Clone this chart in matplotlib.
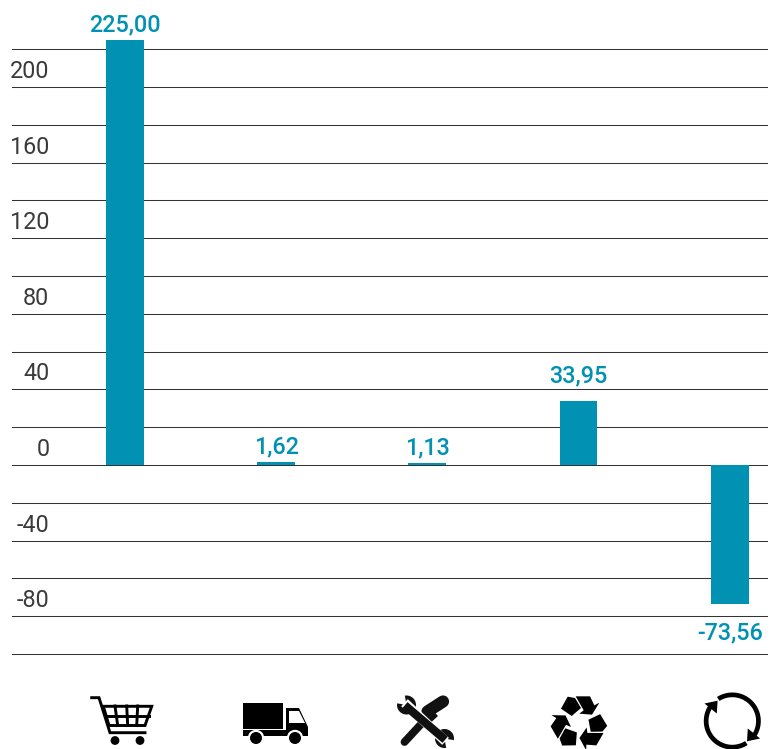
import numpy as np
import matplotlib
matplotlib.use("Agg")
import matplotlib.pyplot as plt
from matplotlib.patches import Polygon, Circle, Rectangle

categories = ["cart", "truck", "tools", "recycle", "cycle"]
values = [225.00, 1.62, 1.13, 33.95, -73.56]
value_labels = ["225,00", "1,62", "1,13", "33,95", "-73,56"]
label_gaps = [15, 15, 15, 24.5, -28.5]
grid_values = list(range(-100, 221, 20))
tick_values = [200, 160, 120, 80, 40, 0, -40, -80]

W, H = 773, 749
BLUE = "#0091b3"
DARK = "#333333"
plt.rcParams["font.family"] = ["Roboto", "DejaVu Sans"]

fig = plt.figure(figsize=(W / 100, H / 100), dpi=100)
ax = fig.add_axes([12 / W, 0, 756 / W, 1])
ax.set_xlim(-0.747, 4.253)
px = 1.89
ax.set_ylim((465 - H) / px, 465 / px)
for s in ax.spines.values():
    s.set_visible(False)
ax.set_xticks([])
ax.set_yticks(grid_values)
ax.tick_params(left=False, labelleft=False)
ax.grid(axis="y", color=DARK, lw=0.75, zorder=1)
ax.set_axisbelow(True)
x = np.arange(len(values))
ax.bar(x, values, width=0.25, color=BLUE, zorder=2)

for xi, v, lab, gap in zip(x, values, value_labels, label_gaps):
    ax.annotate(lab, (xi, v), xytext=(0, gap), textcoords="offset pixels",
                ha="center", va="center", color=BLUE, fontsize=16.8,
                fontweight="medium")
for t in tick_values:
    ax.annotate(str(t), (0, t), xycoords=("axes fraction", "data"), xytext=(37.5, 15.5),
                textcoords="offset pixels", ha="right", va="center", color="#3a3a3a",
                fontsize=16.8, fontweight="regular")

# icon layer in pixel coordinates
ic = fig.add_axes([0, 0, 1, 1], facecolor="none")
ic.set_xlim(0, W)
ic.set_ylim(H, 0)
ic.axis("off")
K = "#000000"


def arc(center, r_out, r_in, t1, t2):
    t = np.deg2rad(np.linspace(t1, t2, 60))
    o = np.c_[np.cos(t), np.sin(t)]
    return np.vstack([o * r_out, (o * r_in)[::-1]]) + center


def rot(p, deg):
    a = np.deg2rad(deg)
    return np.asarray(p) @ np.array([[np.cos(a), np.sin(a)], [-np.sin(a), np.cos(a)]])


# cart
ic.plot([91.7, 99, 110, 145], [697.7, 697.7, 732.7, 732.7], color=K, lw=2.1, solid_joinstyle="miter")
ic.add_patch(Polygon([(103.3, 706.3), (151.7, 706.3), (145, 725.5), (109, 725.5)], closed=True, fc="white", ec=K, lw=2.1))
for xa, xb in [(115, 117.7), (126.7, 127.7), (137.7, 136.7)]:
    ic.plot([xa, xb], [706, 725.5], color=K, lw=2.1)
ic.plot([106, 149], [716.3, 716.3], color=K, lw=2.1)
for cx in (115, 140):
    ic.add_patch(Circle((cx, 740.5), 4.4, fc=K, ec="none"))

# truck
ic.add_patch(Rectangle((243, 703), 40, 25.5, fc=K, ec="none"))
ic.add_patch(Rectangle((243, 730), 65, 6, fc=K, ec="none"))
ic.add_patch(Polygon([(286, 708), (299, 708), (308, 727), (308, 736), (286, 736)], closed=True, fc=K, ec="none"))
ic.add_patch(Polygon([(289, 711), (299, 711), (305, 723), (289, 723)], closed=True, fc="white", ec="none"))
for cx in (256, 295):
    ic.add_patch(Circle((cx, 738), 8.2, fc="white", ec="none"))
    ic.add_patch(Circle((cx, 738), 6, fc=K, ec="none"))

# tools
T = "#111111"
ic.plot([404.5, 424], [742, 721], color=T, lw=5.6, solid_capstyle="round")
ic.plot([427.5, 443], [711.5, 701.5], color=T, lw=8.8, solid_capstyle="round")
ic.add_patch(Polygon([(418, 724), (429, 706), (438, 716), (425, 728)], closed=True, fc=T, ec="none"))
ic.plot([408, 442], [706, 738], color="white", lw=7.0)
ic.plot([408, 442], [708, 737], color=T, lw=6.0)
ic.add_patch(Polygon(arc((406.5, 705), 9.5, 3.4, -100, 190), closed=True, fc=T, ec="none"))
ic.add_patch(Polygon(arc((444.5, 738.5), 9.5, 3.4, 80, 370), closed=True, fc=T, ec="none"))

# recycle
c = np.array([579.0, 722.7])
origin = np.array([545, 692])
arrow = np.array([(92, 13), (135, 13), (148, 40), (163, 32), (141, 68), (103, 65), (116, 55)]) / 3 + origin - c
tail = np.array([(48, 50), (68, 14), (90, 18), (108, 48), (80, 72)]) / 3 + origin - c
for deg in (0, 120, 240):
    ic.add_patch(Polygon(rot(arrow, deg) + c, closed=True, fc=K, ec="none"))
    ic.add_patch(Polygon(rot(tail, deg) + c, closed=True, fc=K, ec="none"))

# cycle
cc = np.array([732.3, 721.0])
head = np.array([(15.5, 7.5), (27.8, 17.5), (14.7, 20.3)])
for deg in (0, 180):
    ic.add_patch(Polygon(arc(cc, 28.5, 23.8, -122.5 + deg, 32 + deg), closed=True, fc=K, ec="none"))
    ic.add_patch(Polygon(rot(head, deg) + cc, closed=True, fc=K, ec="none"))

fig.savefig("out.png", dpi=100)
